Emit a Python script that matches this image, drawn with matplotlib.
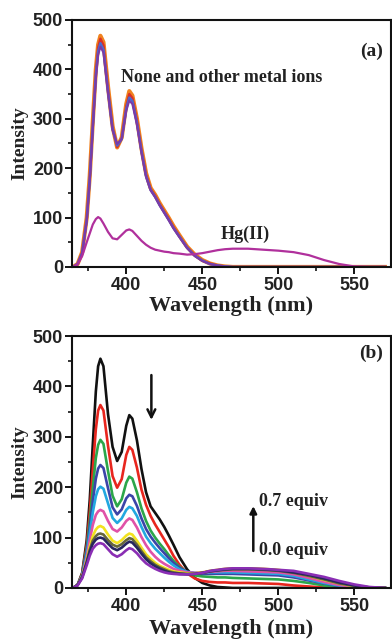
import matplotlib
matplotlib.use("Agg")
import matplotlib.pyplot as plt
from matplotlib.ticker import MultipleLocator

# ---------------- data ----------------
wavelength = [365, 368, 371, 374, 376, 378, 380, 381.5, 383, 385,
              388, 391, 394, 397, 400, 402, 404, 407, 410, 413,
              416, 419, 422, 425, 428, 431, 435, 440, 445, 450,
              455, 460, 465, 470, 480, 490, 500, 510, 520, 530,
              540, 550, 560, 570]

# panel (a): free ligand and other metal ions (overlapping) + Hg(II)
a_orange = [0, 6, 30, 100, 185, 295, 400, 450, 468, 455,
            365, 285, 242, 262, 330, 356, 347, 300, 240, 190,
            160, 146, 129, 114, 99, 83, 64, 41, 25, 14,
            7, 3, 1, 0, 0, 0, 0, 0, 0, 0, 0, 0, 0, 0]
a_red = [0, 6, 29, 98, 182, 290, 395, 444, 462, 449,
         360, 282, 243, 260, 325, 350, 342, 296, 237, 187,
         158, 144, 127, 112, 97, 81, 62, 40, 24, 13,
         7, 3, 1, 0, 0, 0, 0, 0, 0, 0, 0, 0, 0, 0]
a_blue = [0, 6, 28, 95, 178, 284, 388, 436, 453, 440,
          355, 279, 246, 259, 320, 343, 336, 292, 234, 184,
          156, 142, 125, 110, 95, 79, 61, 39, 23, 13,
          6, 3, 1, 0, 0, 0, 0, 0, 0, 0, 0, 0, 0, 0]
a_purple = [0, 6, 27, 92, 174, 278, 380, 429, 446, 434,
            351, 277, 249, 259, 316, 337, 330, 288, 231, 182,
            155, 141, 124, 109, 94, 78, 60, 38, 22, 12,
            6, 3, 1, 0, 0, 0, 0, 0, 0, 0, 0, 0, 0, 0]
a_hg = [0, 5, 22, 50, 68, 86, 97, 101, 98, 88,
        71, 58, 56, 65, 74, 76, 73, 63, 53, 45,
        39, 35, 33, 31, 30, 28, 27, 25, 26, 28,
        31, 34, 36, 37, 37, 35, 33, 30, 24, 14,
        6, 1, 0, 0]

# panel (b): titration with Hg(II), 0.0 -> 0.7 equiv
b_curves = [
    [0, 6, 30, 95, 175, 285, 390, 440, 455, 440,
     345, 280, 252, 270, 322, 343, 336, 293, 236, 190,
     162, 149, 136, 121, 104, 86, 61, 37, 20, 10,
     5, 2, 1, 0, 0, 0, 0, 0, 0, 0, 0, 0, 0, 0],
    [0, 6, 28, 85, 150, 235, 315, 352, 363, 352,
     282, 222, 199, 216, 264, 280, 274, 239, 195, 165,
     143, 126, 111, 96, 81, 64, 46, 29, 19, 14,
     12, 11, 11, 10, 10, 9, 8, 5, 3, 1, 0, 0, 0, 0],
    [0, 6, 26, 78, 132, 198, 258, 284, 294, 286,
     232, 183, 162, 176, 209, 221, 217, 190, 158, 133,
     114, 100, 88, 77, 65, 54, 42, 31, 25, 23,
     22, 21, 21, 20, 19, 18, 17, 14, 10, 5, 2, 1, 0, 0],
    [0, 6, 25, 72, 120, 172, 217, 237, 244, 238,
     198, 160, 146, 156, 178, 185, 182, 163, 138, 117,
     102, 90, 79, 69, 59, 50, 40, 32, 29, 28,
     28, 28, 28, 28, 27, 26, 25, 21, 15, 9, 4, 1, 0, 0],
    [0, 6, 24, 66, 108, 150, 182, 196, 201, 197,
     168, 139, 129, 138, 155, 161, 158, 143, 121, 102,
     89, 78, 69, 60, 52, 45, 37, 32, 30, 30,
     31, 31, 31, 31, 30, 29, 28, 24, 17, 10, 5, 2, 0, 0],
    [0, 6, 23, 60, 95, 125, 145, 152, 155, 152,
     133, 117, 112, 120, 133, 138, 135, 120, 101, 85,
     72, 62, 54, 48, 43, 38, 34, 31, 30, 31,
     32, 33, 34, 34, 33, 32, 31, 27, 20, 12, 6, 2, 0, 0],
    [0, 6, 22, 55, 82, 103, 116, 121, 123, 120,
     106, 94, 89, 95, 104, 108, 106, 94, 80, 67,
     58, 50, 44, 40, 36, 33, 31, 29, 29, 31,
     34, 36, 38, 39, 39, 38, 36, 31, 24, 16, 9, 3, 1, 0],
    [0, 6, 22, 52, 76, 94, 103, 107, 108, 106,
     95, 86, 82, 87, 95, 99, 97, 86, 73, 61,
     53, 46, 41, 37, 33, 31, 29, 28, 28, 30,
     33, 35, 36, 37, 37, 36, 34, 30, 24, 17, 9, 4, 1, 0],
    [0, 6, 21, 50, 72, 88, 96, 99, 100, 98,
     88, 79, 75, 80, 88, 92, 90, 80, 68, 57,
     49, 43, 38, 34, 31, 29, 28, 27, 28, 30,
     33, 35, 37, 38, 38, 37, 35, 31, 26, 19, 11, 5, 1, 0],
    [0, 5, 19, 45, 64, 78, 85, 88, 89, 87,
     77, 67, 62, 67, 75, 79, 77, 69, 58, 49,
     43, 38, 34, 31, 29, 28, 27, 27, 28, 30,
     34, 36, 38, 39, 39, 38, 36, 34, 28, 22, 14, 7, 2, 0],
]
b_colors = ["#111111", "#e8261e", "#2ca64a", "#3b44a8", "#22a8e0",
            "#e052a8", "#f2e21e", "#66663a", "#26265e", "#8a2eb4"]

x_ticks = [400, 450, 500, 550]
y_ticks = [0, 100, 200, 300, 400, 500]

# ---------------- style ----------------
serif = ["Liberation Serif", "DejaVu Serif"]
sans = ["Liberation Sans", "DejaVu Sans"]

fig = plt.figure(figsize=(3.92, 6.41), dpi=100)
ax_a = fig.add_axes([0.1824, 0.5835, 0.8150, 0.3853])
ax_b = fig.add_axes([0.1824, 0.0827, 0.8150, 0.3931])


def style_axis(ax, xpad):
    ax.set_xlim(364, 574)
    ax.set_ylim(0, 500)
    ax.set_xticks(x_ticks)
    ax.set_yticks(y_ticks)
    ax.xaxis.set_minor_locator(MultipleLocator(25))
    ax.yaxis.set_minor_locator(MultipleLocator(50))
    ax.tick_params(which="major", direction="out", length=5, width=1.3,
                   top=False, right=False)
    ax.tick_params(which="minor", direction="out", length=3, width=1.1,
                   top=False, right=False)
    ax.tick_params(axis="y", pad=1)
    ax.tick_params(axis="x", pad=2)
    for lab in ax.get_xticklabels() + ax.get_yticklabels():
        lab.set_fontfamily(sans)
        lab.set_fontweight("bold")
        lab.set_fontsize(13)
        lab.set_color("#222222")
    for sp in ax.spines.values():
        sp.set_linewidth(1.5)
        sp.set_color("#111111")
    ax.set_xlabel("Wavelength (nm)", family=serif, fontweight="bold",
                  fontsize=16, labelpad=xpad, color="#222222")
    ax.set_ylabel("Intensity", family=serif, fontweight="bold",
                  fontsize=14, labelpad=3, color="#222222")


# ---------------- panel (a) ----------------
ax_a.plot(wavelength, a_orange, color="#f0821e", lw=3.0)
ax_a.plot(wavelength, a_red, color="#d8302a", lw=1.8)
ax_a.plot(wavelength, a_blue, color="#4a6ad0", lw=1.8)
ax_a.plot(wavelength, a_purple, color="#7a3aa8", lw=1.5)
ax_a.plot(wavelength, a_hg, color="#b0309c", lw=1.6)
style_axis(ax_a, 2)
ax_a.text(463, 384, "None and other metal ions", family=serif,
          fontweight="bold", fontsize=13, ha="center", va="center",
          color="#222222")
ax_a.text(478, 66, "Hg(II)", family=serif, fontweight="bold", fontsize=13,
          ha="center", va="center", color="#222222")
ax_a.text(561, 437, "(a)", family=serif, fontweight="bold", fontsize=14,
          ha="center", va="center", color="#222222")

# ---------------- panel (b) ----------------
for vals, col in zip(b_curves, b_colors):
    ax_b.plot(wavelength, vals, color=col, lw=1.9)
style_axis(ax_b, 3)
ax_b.text(561, 466, "(b)", family=serif, fontweight="bold", fontsize=14,
          ha="center", va="center", color="#222222")
ax_b.annotate("", xy=(416.5, 328), xytext=(416.5, 428),
              arrowprops=dict(arrowstyle="->", lw=1.8, color="#111111",
                              mutation_scale=14))
ax_b.annotate("", xy=(483.5, 168), xytext=(483.5, 68),
              arrowprops=dict(arrowstyle="-|>", lw=1.8, color="#111111",
                              mutation_scale=10))
ax_b.text(487.5, 171, "0.7 equiv", family=serif, fontweight="bold",
          fontsize=13, ha="left", va="center", color="#222222")
ax_b.text(487.5, 75, "0.0 equiv", family=serif, fontweight="bold",
          fontsize=13, ha="left", va="center", color="#222222")

fig.savefig("out.png", dpi=100)
